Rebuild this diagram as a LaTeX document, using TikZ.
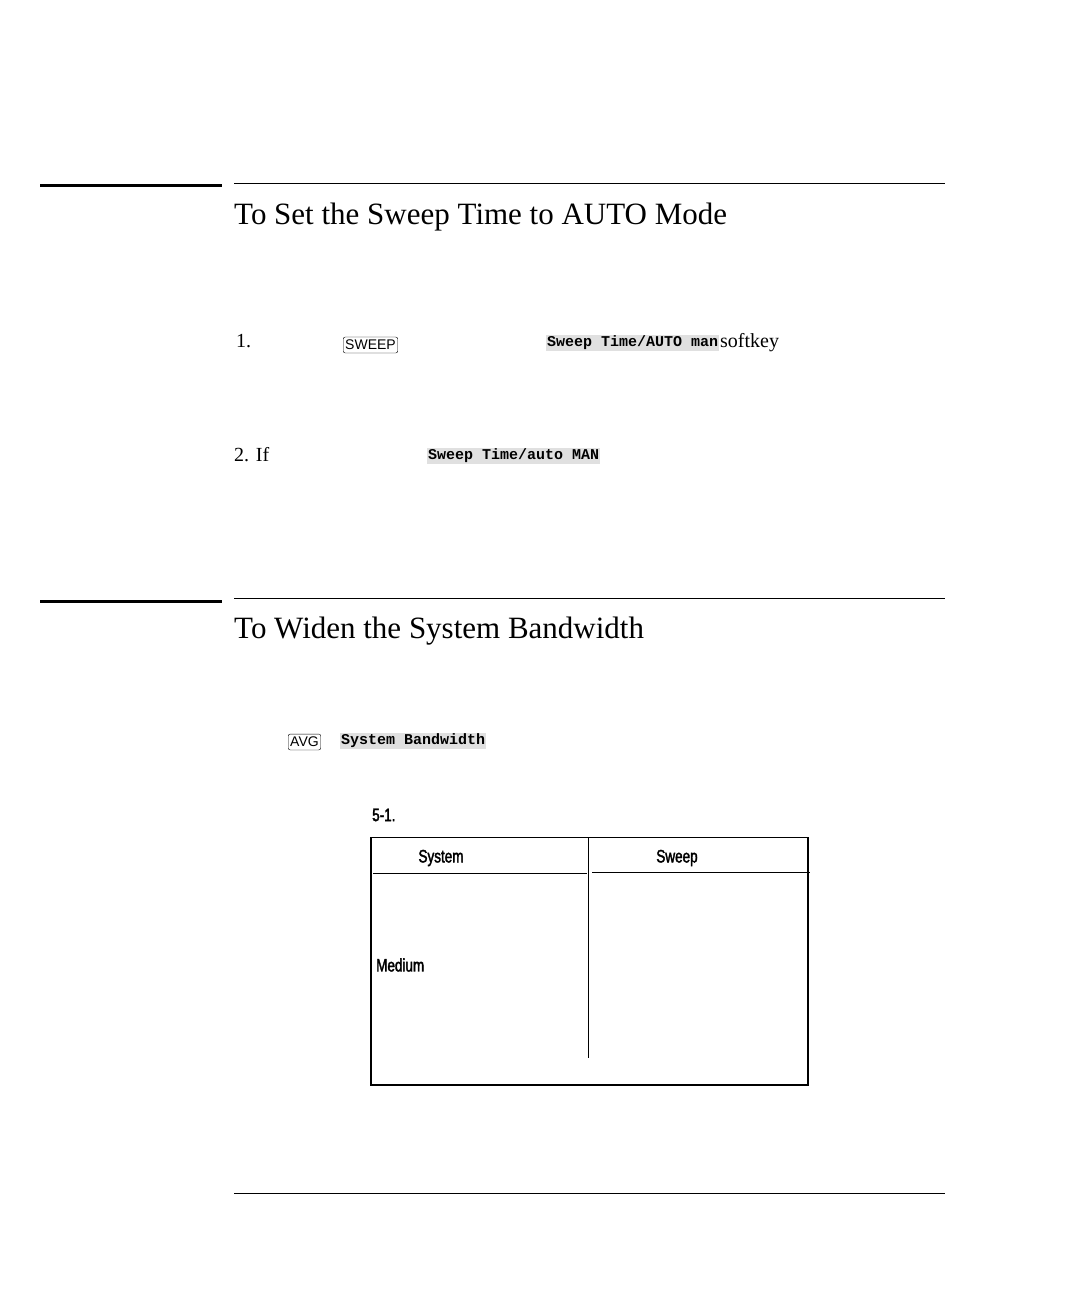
\documentclass[tikz,border=0pt]{standalone}
\usepackage{fontspec}
\setmainfont{Liberation Serif}
\newfontfamily\condsans{Liberation Sans}[FakeStretch=0.75,FakeBold=2]
\newfontfamily\keyfont{Liberation Sans}
\setmonofont{Liberation Mono}
\begin{document}
\begin{tikzpicture}[x=1pt,y=-1pt,
  title/.style={anchor=west,inner sep=0,font=\fontsize{31}{34}\selectfont},
  body/.style={anchor=west,inner sep=0,font=\fontsize{20}{22}\selectfont},
  softk/.style={anchor=west,inner sep=1pt,fill=black!12,font=\ttfamily\bfseries\fontsize{15}{17}\selectfont},
  hardk/.style={anchor=west,draw,rounded corners=2pt,inner xsep=2pt,inner ysep=3pt,font=\keyfont\fontsize{14}{15}\selectfont},
  tabtxt/.style={inner sep=0,font=\condsans\fontsize{18}{20}\selectfont},
  rule/.style={line width=0.9pt},
  thick rule/.style={line width=3pt}]
\useasboundingbox[fill=white] (0,0) rectangle (1084,1298);
% section 1
\draw[thick rule] (40,185) -- (222,185);
\draw[rule] (234,183) -- (945,183);
\node[title] (t1) at (234,217) {To Set the Sweep Time to AUTO Mode};
\node[body] (n1) at (236,341) {1.};
\node[hardk] (k1) at (343,345) {SWEEP};
\node[softk] (s1) at (546,343) {Sweep Time/AUTO man};
\node[body] (w1) at (720,343) {softkey};
\node[body] (n2) at (234,455) {2. If};
\node[softk] (s2) at (427,456) {Sweep  Time/auto  MAN};
% section 2
\draw[thick rule] (40,601) -- (222,601);
\draw[rule] (234,598) -- (945,598);
\node[title] (t2) at (234,631) {To Widen the System Bandwidth};
\node[hardk] (k2) at (288,742) {AVG};
\node[softk] (s3) at (340,741) {System Bandwidth};
\node[tabtxt,anchor=west] (cap) at (372,815) {5-1.};
% table
\draw[rule] (371,837) -- (808,837);
\draw[line width=1.2pt] (371,837) -- (371,1085) -- (808,1085) -- (808,837);
\draw[rule] (588,837) -- (588,1058);
\draw[rule] (373,873) -- (587,873);
\draw[rule] (592,872) -- (810,872);
\node[tabtxt] (h1) at (441,858) {System};
\node[tabtxt] (h2) at (677,858) {Sweep};
\node[tabtxt,anchor=west] (m) at (376,965) {Medium};
\draw[rule] (234,1193) -- (945,1193);
\end{tikzpicture}
\end{document}
